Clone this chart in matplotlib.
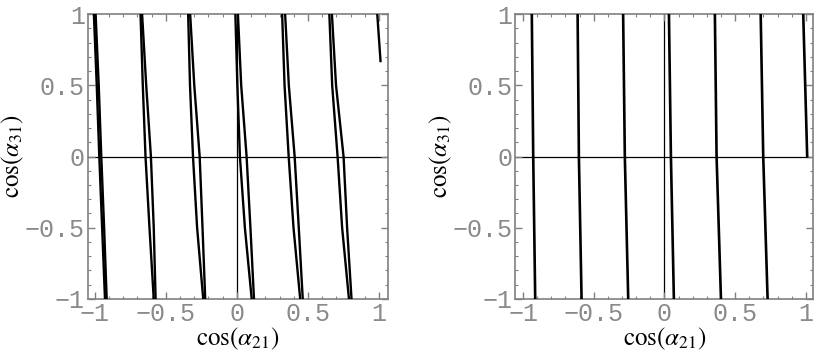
import matplotlib
matplotlib.use("Agg")
import matplotlib.pyplot as plt
from matplotlib.ticker import FixedLocator, FixedFormatter, MultipleLocator

# y sample positions (cos alpha31)
y_levels = [1.0, 0.5, 0.0, -0.5, -1.0]

# Left panel: pairs of curves, x = cos(alpha21) at each y level
left_curves = {
    "A1": [-1.006, -0.986, -0.968, -0.948, -0.928],
    "A2": [-0.994, -0.972, -0.954, -0.934, -0.916],
    "B1": [-0.678, -0.662, -0.643, -0.615, -0.585],
    "B2": [-0.667, -0.638, -0.605, -0.585, -0.572],
    "C1": [-0.343, -0.330, -0.309, -0.280, -0.237],
    "C2": [-0.329, -0.300, -0.262, -0.242, -0.223],
    "D1": [-0.011, 0.003, 0.021, 0.056, 0.104],
    "D2": [0.007, 0.030, 0.068, 0.095, 0.120],
    "E1": [0.318, 0.335, 0.364, 0.398, 0.445],
    "E2": [0.339, 0.365, 0.406, 0.435, 0.463],
    "F1": [0.650, 0.670, 0.708, 0.740, 0.788],
    "F2": [0.668, 0.697, 0.750, 0.775, 0.806],
}
left_short_x = [0.987, 1.010]
left_short_y = [1.0, 0.67]

# Right panel: single near-vertical curves at y = 1, 0, -1
right_levels = [1.0, 0.0, -1.0]
right_curves = {
    "L1": [-0.938, -0.928, -0.914],
    "L2": [-0.614, -0.605, -0.586],
    "L3": [-0.292, -0.280, -0.256],
    "L4": [0.032, 0.046, 0.067],
    "L5": [0.357, 0.369, 0.400],
    "L6": [0.681, 0.699, 0.730],
}
right_short_x = [0.982, 1.010]
right_short_y = [1.0, 0.0]

tick_vals = [-1, -0.5, 0, 0.5, 1]
tick_text = ["\u22121", "\u22120.5", "0", "0.5", "1"]

plt.rcParams["mathtext.fontset"] = "stix"
plt.rcParams["font.family"] = ["Liberation Mono", "DejaVu Sans Mono"]
plt.rcParams["xtick.labelsize"] = 18
plt.rcParams["ytick.labelsize"] = 18

fig = plt.figure(figsize=(8.19, 3.54), dpi=100)
frame_gray = "#808080"

def style(ax, xlim):
    ax.set_xlim(*xlim)
    ax.set_ylim(-1, 1)
    for sp in ax.spines.values():
        sp.set_color(frame_gray)
        sp.set_linewidth(1.2)
    ax.axhline(0, color="black", lw=0.9, zorder=1)
    ax.axvline(0, color="black", lw=0.9, zorder=1)
    for axis in (ax.xaxis, ax.yaxis):
        axis.set_major_locator(FixedLocator(tick_vals))
        axis.set_major_formatter(FixedFormatter(tick_text))
        axis.set_minor_locator(MultipleLocator(0.1))
    ax.tick_params(which="both", direction="in", top=True, right=True,
                   color=frame_gray, labelcolor="#8a8a8a")
    ax.tick_params(which="major", length=5, width=1)
    ax.tick_params(which="minor", length=2.5, width=0.8)
    ax.tick_params(axis="x", pad=2)
    ax.tick_params(axis="y", pad=2)
    ax.set_xlabel(r"$\cos(\alpha_{21})$", fontsize=18)
    ax.set_ylabel(r"$\cos(\alpha_{31})$", fontsize=18)
    ax.xaxis.label.set_va("center")
    ax.yaxis.label.set_va("center")
    ax.xaxis.set_label_coords(0.5, -0.14)
    ax.yaxis.set_label_coords(-0.25, 0.5)

ax1 = fig.add_axes([0.107, 0.1554, 0.3663, 0.805])
style(ax1, (-1.05, 1.06))
for name, xs in left_curves.items():
    ax1.plot(xs, y_levels, color="black", lw=1.7, zorder=3)
ax1.plot(left_short_x, left_short_y, color="black", lw=1.7, zorder=3)

ax2 = fig.add_axes([0.6288, 0.1554, 0.3642, 0.805])
style(ax2, (-1.057, 1.053))
for name, xs in right_curves.items():
    ax2.plot(xs, right_levels, color="black", lw=1.9, zorder=3)
ax2.plot(right_short_x, right_short_y, color="black", lw=1.9, zorder=3)

fig.savefig("out.png", dpi=100)
